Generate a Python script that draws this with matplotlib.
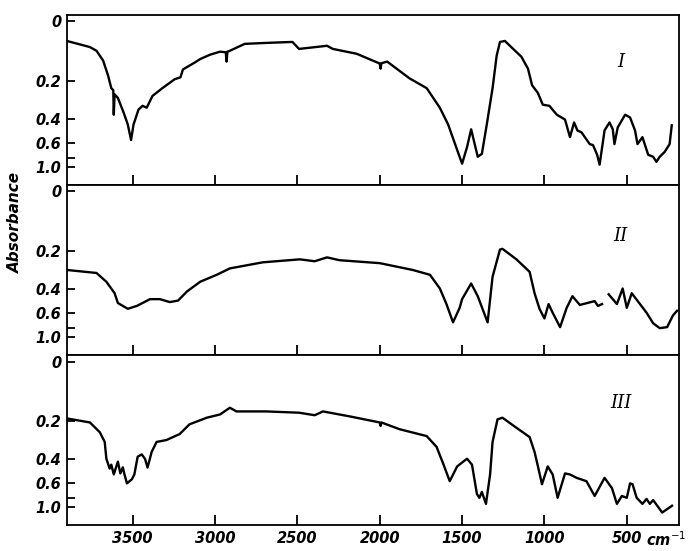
import numpy as np
import matplotlib
matplotlib.use("Agg")
import matplotlib.pyplot as plt

# wavenumber (cm-1) / absorbance
wn_1 = [3900, 3760, 3720, 3680, 3650, 3630, 3618, 3615, 3610, 3590, 3555, 3530, 3510, 3495,
        3465, 3440, 3415, 3380, 3320, 3245, 3210, 3195, 3125, 3090, 3030, 2970, 2935, 2930,
        2925, 2910, 2820, 2690, 2530, 2490, 2320, 2285, 2140, 2000, 1995, 1990, 1955, 1820,
        1715, 1635, 1585, 1530, 1500, 1470, 1445, 1405, 1380, 1350, 1315, 1290, 1270, 1240,
        1190, 1140, 1100, 1075, 1040, 1010, 970, 925, 875, 845, 820, 800, 775, 725, 705, 680,
        665, 635, 605, 585, 575, 555, 510, 480, 450, 435, 405, 370, 340, 320, 300, 270, 240, 227]
abs_1 = [0.056, 0.075, 0.087, 0.120, 0.176, 0.231, 0.24, 0.373, 0.26, 0.278, 0.360, 0.439, 0.573, 0.440,
         0.342, 0.320, 0.331, 0.268, 0.231, 0.192, 0.184, 0.153, 0.128, 0.115, 0.100, 0.090, 0.092, 0.124,
         0.090, 0.087, 0.065, 0.062, 0.059, 0.081, 0.071, 0.081, 0.097, 0.131, 0.150, 0.130, 0.124, 0.188,
         0.231, 0.331, 0.439, 0.686, 0.917, 0.650, 0.477, 0.785, 0.740, 0.439, 0.231, 0.103, 0.059, 0.056,
         0.081, 0.107, 0.150, 0.218, 0.253, 0.314, 0.320, 0.373, 0.405, 0.545, 0.425, 0.486, 0.502, 0.616, 0.627, 0.754,
         0.939, 0.486, 0.425, 0.477, 0.616, 0.462, 0.373, 0.391, 0.486, 0.616, 0.545, 0.754, 0.785, 0.876, 0.785, 0.712, 0.616, 0.446]

wn_2 = [3900, 3720, 3660, 3610, 3590, 3530, 3475, 3395, 3335, 3275, 3225, 3170, 3090, 2990,
        2910, 2710, 2485, 2395, 2320, 2245, 2000, 1800, 1695, 1635, 1595, 1555, 1515, 1500,
        1445, 1405, 1345, 1315, 1270, 1255, 1170, 1090, 1060, 1030, 1000, 975, 950, 905, 865,
        830, 785, 695, 675, 650, 630, 610, 560, 525, 500, 470, 420, 380, 340, 300, 255, 220, 195]
abs_2 = [0.288, 0.304, 0.354, 0.430, 0.507, 0.560, 0.533, 0.475, 0.475, 0.499, 0.487, 0.417, 0.354, 0.314,
         0.280, 0.250, 0.236, 0.245, 0.227, 0.240, 0.254, 0.288, 0.314, 0.397, 0.516, 0.717, 0.551, 0.475,
         0.365, 0.452, 0.717, 0.325, 0.193, 0.190, 0.236, 0.298, 0.430, 0.560, 0.666, 0.516, 0.600, 0.790, 0.551,
         0.452, 0.524, 0.491, 0.533, 0.516, np.nan, 0.438, 0.516, 0.397, 0.551, 0.430, 0.516, 0.600, 0.730, 0.807, 0.790, 0.631, 0.580]

wn_3 = [3900, 3760, 3700, 3670, 3660, 3640, 3630, 3615, 3590, 3575, 3560, 3550, 3535, 3505,
        3490, 3470, 3445, 3425, 3410, 3385, 3355, 3295, 3215, 3155, 3050, 2970, 2910, 2870,
        2690, 2490, 2395, 2345, 2180, 2000, 1995, 1990, 1880, 1715, 1655, 1615, 1575, 1530,
        1470, 1440, 1410, 1395, 1380, 1355, 1330, 1315, 1285, 1255, 1190, 1090, 1060, 1040,
        1015, 980, 950, 920, 875, 845, 805, 745, 695, 635, 590, 560, 530, 500, 480, 465, 440,
        405, 380, 360, 340, 285, 225]
abs_3 = [0.188, 0.205, 0.249, 0.298, 0.398, 0.470, 0.44, 0.519, 0.418, 0.51, 0.46, 0.519, 0.606, 0.564,
         0.519, 0.385, 0.37, 0.40, 0.462, 0.355, 0.298, 0.288, 0.258, 0.213, 0.185, 0.172, 0.146, 0.16,
         0.16, 0.165, 0.175, 0.16, 0.18, 0.205, 0.22, 0.205, 0.235, 0.268, 0.325, 0.432, 0.583, 0.453,
         0.398, 0.44, 0.740, 0.80, 0.71, 0.917, 0.519, 0.298, 0.192, 0.185, 0.218, 0.273, 0.355, 0.45,
         0.616, 0.453, 0.519, 0.80, 0.51, 0.519, 0.55, 0.583, 0.77, 0.55, 0.662, 0.917, 0.77, 0.80, 0.606, 0.616, 0.80,
         0.917, 0.82, 0.917, 0.84, 1.17, 0.96]

panel_names = ["I", "II", "III"]
x_ticks = [3500, 3000, 2500, 2000, 1500, 1000, 500]
x_labels = ["3500", "3000", "2500", "2000", "1500", "1000", "500"]
a_ticks = [0, 0.2, 0.4, 0.6, 0.8, 1.0]
a_labels = ["0", "0.2", "0.4", "0.6", "", "1.0"]

spectra = [(wn_1, abs_1), (wn_2, abs_2), (wn_3, abs_3)]

# axis is linear in transmittance, labelled in absorbance
def to_T(a):
    return 10.0 ** (-np.asarray(a, dtype=float))

tickfont = dict(family="DejaVu Sans", weight="bold", style="italic", size=10.5)

fig, axes = plt.subplots(3, 1, figsize=(6.89, 5.51), dpi=100, sharex=True)
fig.subplots_adjust(left=0.097, right=0.985, top=0.973, bottom=0.047, hspace=0)

label_y = [0.72, 0.70, 0.72]
for i, ax in enumerate(axes):
    wn, ab = spectra[i]
    ax.plot(wn, to_T(ab), color="black", lw=1.7, solid_joinstyle="round")
    ax.set_xlim(3900, 185)
    ax.set_ylim(-0.01, 1.04)
    ax.set_yticks(to_T(a_ticks))
    ax.set_yticklabels(a_labels, fontdict=tickfont)
    ax.set_xticks(x_ticks)
    ax.tick_params(axis="both", direction="in", length=6, width=1.3, pad=4)
    ax.tick_params(axis="x", length=7)
    for s in ax.spines.values():
        s.set_linewidth(1.3)
    ax.text(0.905, label_y[i], panel_names[i], transform=ax.transAxes,
            family="DejaVu Serif", style="italic", fontsize=13, ha="center", va="center")

axes[-1].set_xticklabels(x_labels, fontdict=tickfont)
axes[-1].annotate("cm$^{-1}$", xy=(500, 0), xycoords=axes[-1].get_xaxis_transform(),
                  xytext=(14, -4), textcoords="offset points", ha="left", va="top",
                  **tickfont)

fig.text(0.022, 1 - 222 / 551, "Absorbance", rotation=90, ha="center", va="center",
         family="DejaVu Sans", weight="bold", style="italic", size=11)

fig.savefig("out.png", dpi=100)
